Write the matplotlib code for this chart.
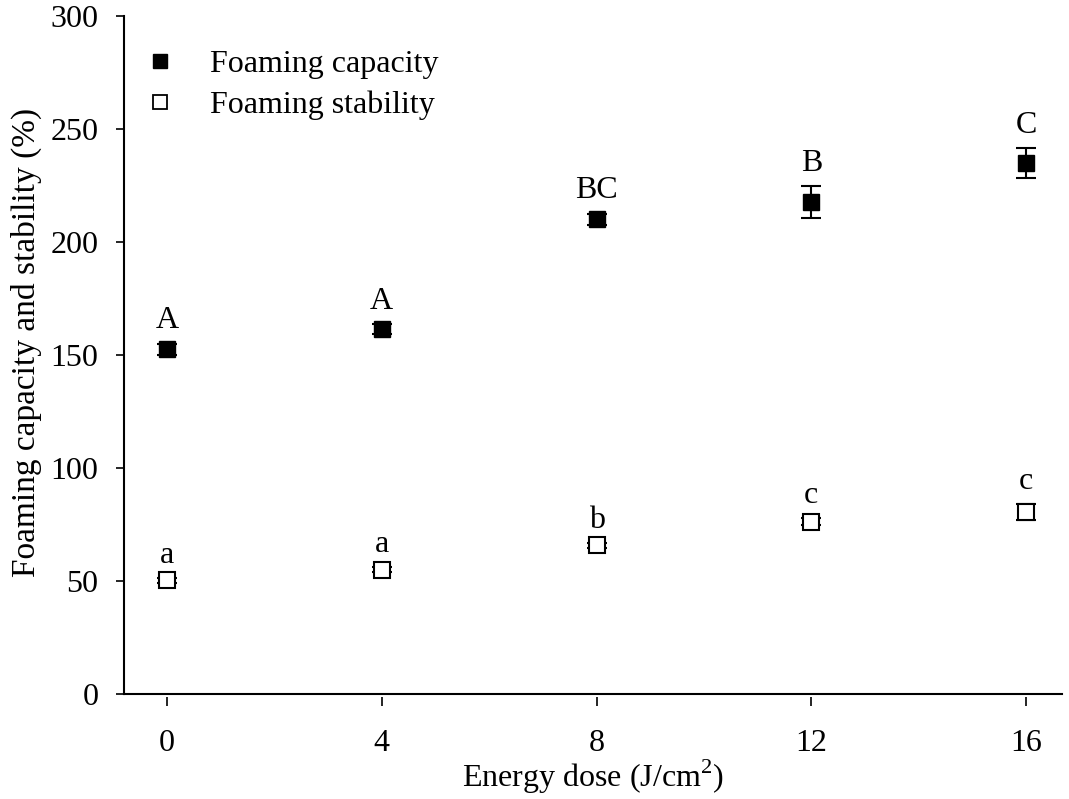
import matplotlib
matplotlib.use("Agg")
import matplotlib.pyplot as plt
from matplotlib.lines import Line2D

# Data
dose = [0, 4, 8, 12, 16]
capacity = [152.5, 161.5, 210.0, 217.8, 235.0]
capacity_err = [2.5, 2.0, 2.5, 7.0, 6.5]
stability = [50.3, 55.0, 65.8, 76.3, 80.6]
stability_err = [1.0, 1.0, 1.0, 1.5, 3.5]
capacity_letters = ["A", "A", "BC", "B", "C"]
stability_letters = ["a", "a", "b", "c", "c"]

plt.rcParams['font.family'] = ['Liberation Serif', 'DejaVu Serif']
plt.rcParams['mathtext.fontset'] = 'custom'
plt.rcParams['mathtext.rm'] = 'Liberation Serif'
plt.rcParams['font.size'] = 23


def main():
    fig = plt.figure(figsize=(10.69, 7.99), dpi=100)
    ax = fig.add_axes([0.116, 0.1314, 0.8775, 0.8486])

    ax.errorbar(dose, capacity, yerr=capacity_err, fmt='s', color='black',
                markersize=11.5, capsize=7, elinewidth=1.5, capthick=1.5,
                zorder=3)
    ax.errorbar(dose, stability, yerr=stability_err, fmt='s', color='black',
                markerfacecolor='white', markeredgewidth=1.5,
                markersize=11, capsize=7, elinewidth=1.5, capthick=1.5,
                zorder=3)

    # significance letters above each error bar
    for x, y, e, t in zip(dose, capacity, capacity_err, capacity_letters):
        ax.annotate(t, (x, y + e), xytext=(0, 6), textcoords='offset points',
                    ha='center', va='bottom')
    for x, y, e, t in zip(dose, stability, stability_err, stability_letters):
        ax.annotate(t, (x, y + e), xytext=(0, 6), textcoords='offset points',
                    ha='center', va='bottom')

    ax.set_xlim(-0.80, 16.67)
    ax.set_ylim(0, 300)
    ax.set_xticks(dose)
    ax.set_yticks(range(0, 301, 50))

    for s in ['top', 'right']:
        ax.spines[s].set_visible(False)
    ax.spines['left'].set_linewidth(1.5)
    # x ticks sit slightly below the axis line
    ax.spines['bottom'].set_position(('outward', 2.5))
    ax.spines['bottom'].set_visible(False)
    ax.axhline(0, color='black', lw=1.5, clip_on=False, zorder=4)

    ax.tick_params(axis='y', direction='out', length=6, width=1.2, pad=12.5)
    ax.tick_params(axis='x', direction='out', length=6.5, width=1.2, pad=16)

    ax.set_xlabel(r'Energy dose (J/cm$^{2}$)', labelpad=0)
    ax.set_ylabel('Foaming capacity and stability (%)', fontsize=24)
    ax.yaxis.set_label_coords(-0.087, 0.518)

    handles = [
        Line2D([], [], ls='none', marker='s', color='black', markersize=10),
        Line2D([], [], ls='none', marker='s', color='black',
               markerfacecolor='white', markeredgewidth=1.3, markersize=10),
    ]
    ax.legend(handles, ['Foaming capacity', 'Foaming stability'],
              loc='upper left', bbox_to_anchor=(0.0235, 0.95), frameon=False,
              handlelength=0.9, handletextpad=1.1, borderpad=0,
              borderaxespad=0, labelspacing=0.35)

    fig.savefig('out.png', dpi=100)


if __name__ == "__main__":
    main()
